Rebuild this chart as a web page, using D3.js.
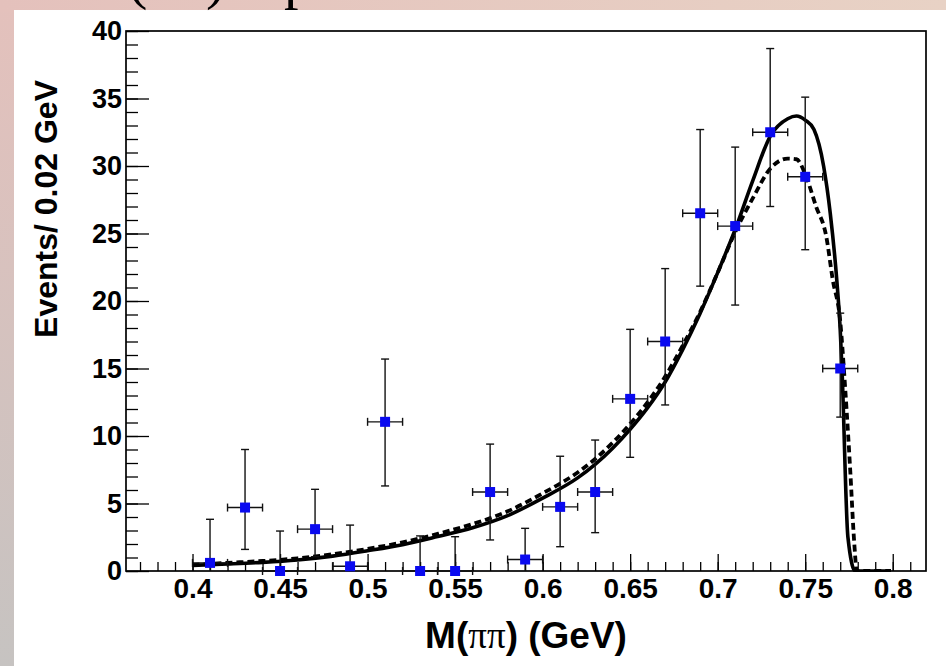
<!DOCTYPE html>
<html>
<head>
<meta charset="utf-8">
<title>M(pi pi) fit</title>
<script src="https://cdn.jsdelivr.net/npm/d3@7/dist/d3.min.js"></script>
<style>
  body { margin: 0; background: #fff; }
  svg { display: block; }
  .tick text { font-family: "Liberation Sans", Arial, sans-serif; font-weight: bold; fill: #000; }
  .tick line { stroke: #000; stroke-width: 1.3; }
</style>
</head>
<body>
<svg id="chart" width="946" height="666"></svg>
<script>
// bin centres and contents
const binCenters = [0.41, 0.43, 0.45, 0.47, 0.49, 0.51, 0.53, 0.55, 0.57, 0.59,
                    0.61, 0.63, 0.65, 0.67, 0.69, 0.71, 0.73, 0.75, 0.77];
const counts     = [0.6, 4.7, 0, 3.1, 0.35, 11.05, 0, 0, 5.85, 0.85,
                    4.75, 5.85, 12.75, 17.0, 26.5, 25.55, 32.5, 29.2, 15.0];
const barLow     = [0, 1.6, 0, 1.06, 0, 6.3, 0, 0, 2.3, 0,
                    1.8, 2.84, 8.42, 12.3, 21.1, 19.7, 27.0, 23.8, 11.4];
const barHigh    = [3.83, 9.0, 2.96, 6.05, 3.4, 15.7, 2.6, 2.54, 9.4, 3.16,
                    8.5, 9.7, 17.9, 22.4, 32.7, 31.4, 38.7, 35.1, 19.1];
const binHalf = 0.01;

// fit curves (solid = full fit, dashed = alternative)
const solidX = [0.400, 0.420, 0.440, 0.460, 0.480, 0.500, 0.520, 0.540, 0.560, 0.580,
                0.600, 0.620, 0.630, 0.640, 0.650, 0.660, 0.670, 0.680, 0.690, 0.700,
                0.710, 0.720, 0.730, 0.740, 0.745, 0.750, 0.755, 0.7605, 0.7643, 0.768,
                0.770, 0.771, 0.7744, 0.7786, 0.799];
const solidY = [0.42, 0.52, 0.64, 0.82, 1.1, 1.5, 1.95, 2.55, 3.2, 4.1,
                5.4, 6.9, 7.9, 9.1, 10.5, 12.1, 14.0, 16.4, 19.1, 22.1,
                25.3, 28.9, 32.2, 33.5, 33.7, 33.4, 32.7, 30.0, 26.5, 21.6,
                17.85, 15.0, 2.5, 0, 0];
const dashedX = [0.400, 0.420, 0.440, 0.460, 0.480, 0.500, 0.520, 0.540, 0.560, 0.580,
                 0.600, 0.620, 0.630, 0.640, 0.650, 0.660, 0.670, 0.680, 0.690, 0.700,
                 0.710, 0.720, 0.730, 0.740, 0.745, 0.750, 0.7562, 0.762, 0.7657, 0.770,
                 0.7729, 0.7757, 0.778, 0.7795, 0.799];
const dashedY = [0.45, 0.6, 0.74, 0.94, 1.24, 1.64, 2.12, 2.75, 3.48, 4.42,
                 5.75, 7.3, 8.3, 9.5, 10.9, 12.5, 14.4, 16.7, 19.2, 22.1,
                 25.1, 27.6, 29.8, 30.55, 30.5, 29.4, 27.0, 24.8, 21.6, 18.5,
                 13.4, 7.5, 2.1, 0, 0];

const xMajor = [0.4, 0.45, 0.5, 0.55, 0.6, 0.65, 0.7, 0.75, 0.8];
const yMajor = [0, 5, 10, 15, 20, 25, 30, 35, 40];

const svg = d3.select("#chart");

// slide background
const defs = svg.append("defs");
const gv = defs.append("linearGradient").attr("id", "bgv").attr("x1", 0).attr("y1", 0).attr("x2", 0).attr("y2", 1);
gv.append("stop").attr("offset", "0%").attr("stop-color", "#e4c1bc");
gv.append("stop").attr("offset", "100%").attr("stop-color", "#c6c3c1");
const gh = defs.append("linearGradient").attr("id", "bgh").attr("x1", 0).attr("y1", 0).attr("x2", 1).attr("y2", 0);
gh.append("stop").attr("offset", "0%").attr("stop-color", "#e4c1bc");
gh.append("stop").attr("offset", "100%").attr("stop-color", "#e8d2c5");

svg.append("rect").attr("width", 946).attr("height", 666).attr("fill", "url(#bgv)");
svg.append("rect").attr("width", 946).attr("height", 12).attr("fill", "url(#bgh)");
svg.append("rect").attr("x", 14).attr("y", 10).attr("width", 932).attr("height", 656).attr("fill", "#fff");

// slide title, cut off by the top edge as in the original screenshot
svg.append("text").attr("x", 128).attr("y", -2)
  .attr("font-family", "Liberation Serif, Times New Roman, serif").attr("font-size", 58)
  .text("(ππ)");
svg.append("text").attr("x", 284).attr("y", -2)
  .attr("font-family", "Liberation Serif, Times New Roman, serif").attr("font-size", 58)
  .text("p");

const x = d3.scaleLinear().domain([0.362, 0.819]).range([126, 926]);
const y = d3.scaleLinear().domain([0, 40]).range([571, 31]);

// axes (ticks point into the frame)
const xMinor = d3.range(37, 82).map(d => d / 100);
const yMinor = d3.range(0, 41);

svg.append("g").attr("transform", "translate(0,571)")
  .call(d3.axisBottom(x).tickValues(xMinor).tickSizeInner(-9).tickSizeOuter(0).tickFormat(""))
  .call(g => g.select(".domain").remove());
svg.append("g").attr("transform", "translate(0,571)")
  .call(d3.axisBottom(x).tickValues(xMajor).tickSizeInner(-17).tickSizeOuter(0).tickPadding(7)
    .tickFormat(d => String(+d.toFixed(2))))
  .call(g => g.select(".domain").remove())
  .call(g => g.selectAll("text").attr("font-size", 28));

svg.append("g").attr("transform", "translate(126,0)")
  .call(d3.axisLeft(y).tickValues(yMinor).tickSizeInner(-12).tickSizeOuter(0).tickFormat(""))
  .call(g => g.select(".domain").remove());
svg.append("g").attr("transform", "translate(126,0)")
  .call(d3.axisLeft(y).tickValues(yMajor).tickSizeInner(-23).tickSizeOuter(0).tickPadding(4))
  .call(g => g.select(".domain").remove())
  .call(g => g.selectAll("text").attr("font-size", 27));

// frame
svg.append("rect")
  .attr("x", x.range()[0]).attr("y", y.range()[1])
  .attr("width", x.range()[1] - x.range()[0]).attr("height", y.range()[0] - y.range()[1])
  .attr("fill", "none").attr("stroke", "#000").attr("stroke-width", 1.7);

// axis titles
svg.append("text")
  .attr("x", (x.range()[0] + x.range()[1]) / 2).attr("y", 648)
  .attr("text-anchor", "middle")
  .attr("font-family", "Liberation Sans, Arial, sans-serif").attr("font-weight", "bold")
  .attr("font-size", 37)
  .call(t => {
    t.append("tspan").text("M(");
    t.append("tspan").attr("font-family", "Liberation Serif, Times New Roman, serif")
      .attr("font-weight", "normal").text("ππ");
    t.append("tspan").text(") (GeV)");
  });

svg.append("text")
  .attr("transform", "translate(57,80) rotate(-90)")
  .attr("text-anchor", "end")
  .attr("font-family", "Liberation Sans, Arial, sans-serif").attr("font-weight", "bold")
  .attr("font-size", 32)
  .text("Events/ 0.02 GeV");

// fit curves
const line = d3.line().x(d => x(d[0])).y(d => y(d[1])).curve(d3.curveMonotoneX);
const clip = defs.append("clipPath").attr("id", "frame");
clip.append("rect").attr("x", 126).attr("y", 31).attr("width", 800).attr("height", 541);

svg.append("path")
  .datum(dashedX.map((v, i) => [v, dashedY[i]]))
  .attr("d", line).attr("fill", "none").attr("stroke", "#000")
  .attr("stroke-width", 3.8).attr("stroke-dasharray", "7,4")
  .attr("clip-path", "url(#frame)");
svg.append("path")
  .datum(solidX.map((v, i) => [v, solidY[i]]))
  .attr("d", line).attr("fill", "none").attr("stroke", "#000")
  .attr("stroke-width", 3.6).attr("stroke-linejoin", "round")
  .attr("clip-path", "url(#frame)");

// data points with error bars
const cap = 4;
const pts = svg.append("g").attr("stroke", "#111").attr("stroke-width", 1.4);
binCenters.forEach((c, i) => {
  const cx = x(c), cy = y(counts[i]);
  const x0 = x(c - binHalf), x1 = x(c + binHalf);
  const yl = y(barLow[i]), yh = y(barHigh[i]);
  pts.append("line").attr("x1", x0).attr("x2", x1).attr("y1", cy).attr("y2", cy);
  pts.append("line").attr("x1", x0).attr("x2", x0).attr("y1", cy - cap).attr("y2", cy + cap);
  pts.append("line").attr("x1", x1).attr("x2", x1).attr("y1", cy - cap).attr("y2", cy + cap);
  pts.append("line").attr("x1", cx).attr("x2", cx).attr("y1", yl).attr("y2", yh);
  pts.append("line").attr("x1", cx - cap).attr("x2", cx + cap).attr("y1", yh).attr("y2", yh);
  if (barLow[i] > 0) {
    pts.append("line").attr("x1", cx - cap).attr("x2", cx + cap).attr("y1", yl).attr("y2", yl);
  }
});

svg.append("g").selectAll("rect")
  .data(binCenters)
  .enter().append("rect")
  .attr("x", d => x(d) - 5).attr("y", (d, i) => y(counts[i]) - 5)
  .attr("width", 10).attr("height", 10)
  .attr("fill", "#0a0af0");
</script>
</body>
</html>
